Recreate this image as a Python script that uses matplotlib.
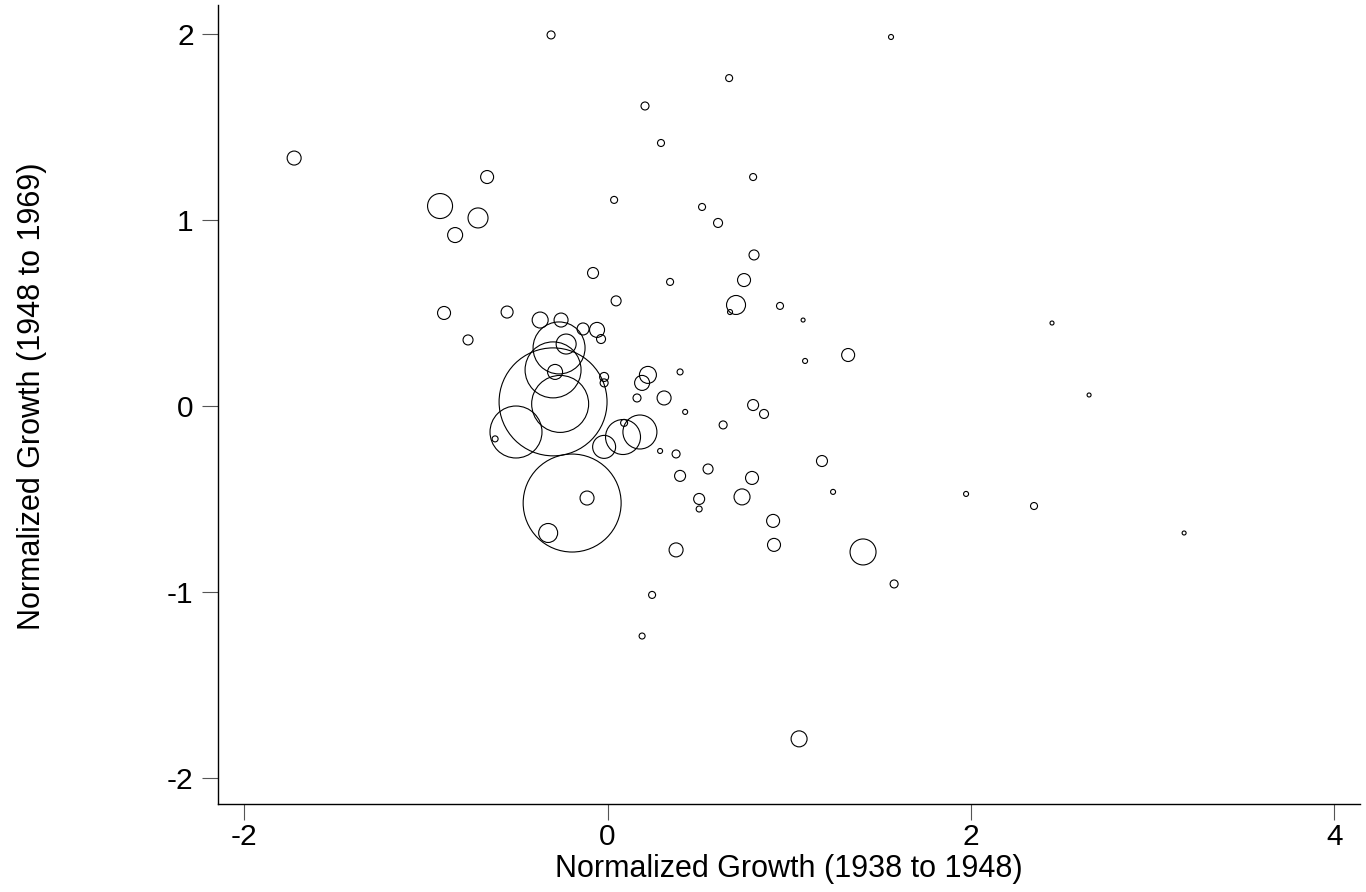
import numpy as np
import matplotlib
matplotlib.use("Agg")
import matplotlib.pyplot as plt

plt.rcParams['font.family'] = ['Liberation Sans', 'DejaVu Sans']

# normalized growth, 1938-1948 (x) and 1948-1969 (y), bubble weight per unit
growth_38_48 = [-0.311, 1.560, 0.669, 0.206, 0.294, -1.725, -0.663, 0.801, 0.036, 0.520,
                -0.922, -0.713, -0.839, 0.608, -0.080, 0.806, 0.344, 0.751, 0.047, 0.707,
                0.674, 0.949, 1.076, 2.446, -0.900, -0.553, -0.371, -0.256, -0.135, -0.058,
                -0.036, -0.768, -0.267, -0.228, -0.300, -0.289, -0.300, -0.261, -0.504, -0.619,
                -0.019, -0.019, 0.222, 0.190, 0.162, 0.311, 0.399, 0.427, 0.178, 0.085,
                0.091, -0.019, 0.289, 0.377, 0.553, 0.399, 0.504, 0.504, -0.195, -0.113,
                -0.327, 0.377, 1.087, 1.324, 0.801, 0.861, 0.636, 1.180, 1.241, 0.795,
                0.740, 0.911, 0.916, 1.406, 1.577, 0.245, 2.650, 1.973, 2.347, 3.173,
                0.190, 1.054]
growth_48_69 = [1.995, 1.984, 1.763, 1.613, 1.414, 1.333, 1.231, 1.231, 1.108, 1.070,
                1.075, 1.011, 0.919, 0.984, 0.715, 0.812, 0.667, 0.677, 0.565, 0.543,
                0.505, 0.538, 0.462, 0.446, 0.500, 0.505, 0.462, 0.462, 0.414, 0.409,
                0.360, 0.355, 0.312, 0.333, 0.194, 0.183, 0.022, 0.011, -0.140, -0.177,
                0.156, 0.124, 0.167, 0.124, 0.043, 0.043, 0.183, -0.032, -0.140, -0.167,
                -0.091, -0.220, -0.242, -0.258, -0.339, -0.376, -0.500, -0.554, -0.522, -0.495,
                -0.683, -0.774, 0.242, 0.274, 0.005, -0.043, -0.102, -0.296, -0.462, -0.387,
                -0.489, -0.618, -0.747, -0.785, -0.957, -1.016, 0.059, -0.473, -0.538, -0.683,
                -1.237, -1.790]
weight = [6.4, 2.5, 4.9, 6.4, 4.9, 19.6, 16.9, 4.9, 4.9, 4.9,
          62.5, 40.0, 22.5, 8.1, 12.1, 10.0, 4.9, 16.9, 10.0, 36.1,
          2.5, 4.9, 1.6, 1.6, 16.9, 14.4, 25.6, 19.6, 14.4, 22.5,
          8.1, 10.0, 270.4, 40.0, 313.6, 22.5, 1166.4, 324.9, 270.4, 3.6,
          8.1, 6.4, 28.9, 22.5, 6.4, 19.6, 3.6, 2.5, 115.6, 122.5,
          4.9, 52.9, 2.5, 6.4, 10.0, 12.1, 12.1, 3.6, 960.4, 19.6,
          36.1, 19.6, 2.5, 16.9, 12.1, 8.1, 6.4, 12.1, 2.5, 16.9,
          25.6, 16.9, 16.9, 67.6, 6.4, 4.9, 1.6, 2.5, 4.9, 1.6,
          3.6, 25.6]

fig = plt.figure(figsize=(13.66, 8.92), dpi=100)
ax = fig.add_axes([0.1596, 0.0987, 0.836, 0.8957])

sizes = np.array(weight) * 5.18
ax.scatter(growth_38_48, growth_48_69, s=sizes, facecolors='none',
           edgecolors='black', linewidths=0.8)

ax.set_xlim(-2.144, 4.141)
ax.set_ylim(-2.140, 2.156)
ax.set_xticks([-2, 0, 2, 4])
ax.set_yticks([-2, -1, 0, 1, 2])
ax.set_xticklabels(['-2', '0', '2', '4'])
ax.set_yticklabels(['-2', '-1', '0', '1', '2'])

for side in ['top', 'right']:
    ax.spines[side].set_visible(False)
for side in ['left', 'bottom']:
    ax.spines[side].set_linewidth(1.0)
    ax.spines[side].set_color('black')

ax.tick_params(axis='both', direction='out', length=11.5, width=0.8,
               color='#555555', labelsize=21.5)
ax.tick_params(axis='x', pad=2)
ax.tick_params(axis='y', pad=6)

ax.set_xlabel('Normalized Growth (1938 to 1948)', fontsize=22)
ax.set_ylabel('Normalized Growth (1948 to 1969)', fontsize=22)
ax.xaxis.set_label_coords(0.5, -0.0914)
ax.xaxis.label.set_va('baseline')
ax.yaxis.set_label_coords(-0.150, 0.51)

fig.savefig('out.png', dpi=100)
